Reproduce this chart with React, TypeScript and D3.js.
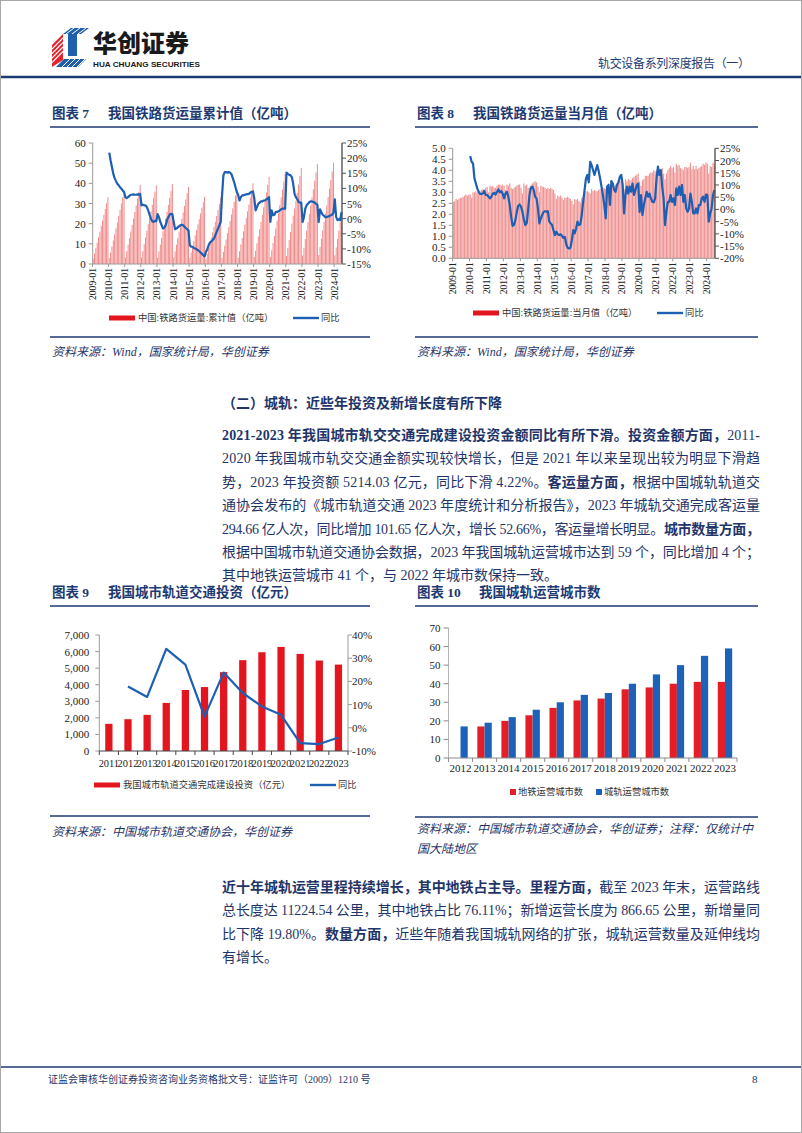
import React from 'react';
import * as d3 from 'd3';

// ---------------- DATA ----------------
// month categories 2009-01 .. 2024-06
const monthLabels: string[] = [];
for (let y = 2009; y <= 2024; y++) {
  for (let m = 1; m <= 12; m++) {
    if (y === 2024 && m > 6) break;
    monthLabels.push(`${y}-${m < 10 ? '0' + m : m}`);
  }
}
const yearTickLabels = ['2009-01','2010-01','2011-01','2012-01','2013-01','2014-01','2015-01','2016-01','2017-01','2018-01','2019-01','2020-01','2021-01','2022-01','2023-01','2024-01'];

// Chart 7: cumulative rail freight (亿吨)
const freightCumulative: number[] = [
  2.6, 5.2, 7.9, 10.6, 13.3, 16.0, 18.8, 21.6, 24.4, 27.3, 30.2, 33.1,
  2.9, 5.7, 8.7, 11.7, 14.7, 17.7, 20.7, 23.8, 26.9, 30.0, 33.1, 36.3,
  3.3, 6.3, 9.6, 12.8, 16.1, 19.3, 22.5, 25.8, 29.1, 32.5, 35.8, 39.2,
  3.3, 6.4, 9.8, 13.1, 16.5, 19.7, 22.8, 26.0, 29.3, 32.6, 35.9, 39.0,
  3.2, 6.2, 9.6, 12.9, 16.2, 19.4, 22.6, 25.9, 29.3, 32.8, 36.3, 39.7,
  3.3, 6.3, 9.6, 12.8, 16.1, 19.3, 22.4, 25.6, 28.8, 32.0, 35.1, 38.2,
  3.0, 5.7, 8.5, 11.3, 14.2, 16.9, 19.6, 22.3, 25.1, 27.9, 30.6, 33.3,
  2.6, 5.1, 7.8, 10.4, 13.1, 15.7, 18.3, 21.0, 23.8, 26.8, 29.8, 33.0,
  3.0, 6.0, 9.1, 12.2, 15.3, 18.3, 21.4, 24.5, 27.6, 30.8, 34.0, 37.2,
  3.2, 6.3, 9.7, 12.8, 16.2, 19.5, 22.8, 26.1, 29.5, 33.0, 36.5, 40.0,
  3.5, 6.6, 10.2, 13.7, 17.3, 20.9, 24.4, 28.1, 31.8, 35.5, 39.3, 43.2,
  3.5, 6.8, 10.4, 14.0, 17.7, 21.5, 25.2, 29.1, 33.0, 36.9, 40.9, 44.8,
  4.0, 7.9, 11.9, 15.9, 20.0, 23.9, 27.5, 31.3, 35.3, 39.4, 43.6, 47.7,
  4.2, 8.1, 12.4, 16.6, 20.8, 24.9, 29.0, 33.0, 37.1, 41.3, 45.4, 49.5,
  4.4, 8.4, 12.6, 16.7, 20.9, 24.9, 29.0, 33.2, 37.4, 41.7, 45.9, 50.3,
  4.3, 8.2, 12.4, 16.5, 20.9, 25.2,
];
const freightCumulativeYoY: (number | null)[] = [
  null, null, null, null, null, null, null, null, null, null, null, null,
  21.8, 19.2, 17.0, 14.8, 13.4, 12.4, 11.5, 11.0, 10.4, 9.9, 9.3, 8.8,
  7.1, 6.8, 7.1, 7.5, 7.9, 7.9, 8.0, 7.9, 7.9, 8.0, 7.9, 8.2,
  4.4, 4.6, 4.4, 4.4, 3.8, 2.7, 1.3, 0.0, -0.9, -1.1, -0.7, -0.9,
  1.5, 0.5, -1.1, -2.2, -3.3, -3.0, -2.2, -0.5, 0.5, 1.3, 1.6, 1.5,
  -1.1, -3.5, -3.3, -2.9, -2.5, -2.2, -2.0, -2.2, -2.7, -3.1, -3.5, -3.9,
  -8.8, -9.3, -9.3, -9.7, -9.9, -10.1, -10.4, -10.8, -11.2, -11.6, -12.1, -12.5,
  -11.0, -10.1, -8.8, -7.9, -7.5, -7.1, -6.6, -5.5, -4.4, -3.3, -2.2, -1.1,
  7.7, 14.3, 15.4, 15.4, 15.2, 15.4, 15.2, 14.7, 13.4, 12.1, 10.4, 8.8,
  7.9, 6.0, 7.1, 7.7, 7.7, 7.9, 8.0, 8.1, 8.2, 8.6, 8.8, 9.0,
  6.8, 2.7, 3.8, 4.9, 5.3, 5.7, 5.7, 6.0, 6.0, 6.4, 6.6, 7.1,
  -1.1, 2.7, 1.1, 1.3, 2.2, 2.2, 2.4, 2.7, 3.1, 3.3, 3.3, 3.3,
  15.2, 14.8, 14.5, 14.3, 13.7, 11.5, 8.2, 7.1, 6.4, 5.5, 5.3, 5.3,
  -1.1, 0.5, 3.3, 4.4, 4.9, 5.5, 5.7, 5.7, 5.5, 5.3, 4.9, 4.6,
  -1.1, 3.1, 2.0, 1.3, 0.9, 0.5, 0.5, 0.7, 0.9, 1.1, 1.3, 2.0,
  6.4, 0.5, -0.5, -0.2, -0.5, 2.2,
];

// Chart 8: monthly rail freight (亿吨)
const freightMonthly: number[] = [
  2.55, 2.6, 2.7, 2.65, 2.7, 2.75, 2.75, 2.8, 2.85, 2.9, 2.85, 2.9,
  2.9, 2.75, 3.0, 3.0, 3.05, 3.0, 3.0, 3.05, 3.1, 3.15, 3.1, 3.2,
  3.25, 3.0, 3.3, 3.25, 3.3, 3.2, 3.2, 3.3, 3.35, 3.35, 3.3, 3.35,
  3.3, 3.1, 3.35, 3.3, 3.4, 3.2, 3.15, 3.2, 3.25, 3.3, 3.35, 3.35,
  3.2, 2.95, 3.4, 3.3, 3.35, 3.2, 3.2, 3.3, 3.4, 3.45, 3.5, 3.45,
  3.25, 3.0, 3.3, 3.25, 3.25, 3.2, 3.15, 3.2, 3.15, 3.2, 3.15, 3.1,
  2.95, 2.7, 2.85, 2.8, 2.85, 2.75, 2.65, 2.75, 2.75, 2.8, 2.75, 2.7,
  2.6, 2.45, 2.7, 2.65, 2.7, 2.6, 2.55, 2.75, 2.8, 2.95, 3.05, 3.05,
  3.0, 2.95, 3.15, 3.05, 3.1, 3.05, 3.05, 3.1, 3.15, 3.15, 3.2, 3.2,
  3.15, 3.1, 3.4, 3.15, 3.4, 3.3, 3.25, 3.35, 3.4, 3.45, 3.5, 3.55,
  3.45, 3.15, 3.6, 3.5, 3.6, 3.55, 3.55, 3.65, 3.7, 3.75, 3.8, 3.85,
  3.5, 3.3, 3.55, 3.6, 3.75, 3.75, 3.75, 3.85, 3.9, 3.9, 4.0, 3.95,
  4.0, 3.85, 4.05, 4.0, 4.1, 3.85, 3.6, 3.85, 4.0, 4.1, 4.2, 4.1,
  4.15, 3.9, 4.3, 4.2, 4.25, 4.1, 4.05, 4.0, 4.15, 4.15, 4.1, 4.15,
  4.35, 4.05, 4.2, 4.05, 4.2, 4.05, 4.1, 4.15, 4.2, 4.3, 4.25, 4.35,
  4.3, 3.85, 4.2, 4.15, 4.35, 4.3,
];
const freightMonthlyYoY: (number | null)[] = [
  null, null, null, null, null, null, null, null, null, null, null, null,
  21.8, 19.5, 18.8, 12.7, 10.6, 8.6, 7.2, 6.3, 6.3, 6.5, 7.6, 5.9,
  5.9, 5.2, 4.5, 5.2, 6.4, 6.8, 6.1, 7.2, 8.2, 7.0, 7.5, 6.4,
  4.5, 6.5, 7.2, 5.2, 1.8, -3.0, -6.7, -6.4, -4.4, -1.0, 1.5, 2.0,
  1.1, -1.0, -4.0, -6.4, -5.7, -0.3, 5.9, 8.9, 9.3, 7.9, 5.2, 4.5,
  0.4, -5.7, -3.7, -2.3, -1.0, -0.7, -1.0, -0.7, -5.0, -5.7, -6.4, -8.5,
  -10.5, -9.1, -10.2, -10.5, -10.2, -10.8, -11.6, -11.2, -14.2, -15.7, -16.0, -15.7,
  -12.6, -8.5, -9.8, -7.8, -5.0, -6.4, -6.1, -2.3, 3.1, 7.9, 12.7, 14.1,
  11.1, 19.5, 18.1, 16.1, 14.1, 16.1, 18.1, 15.7, 12.7, 9.3, 5.9, 1.8,
  -3.7, 9.3, 10.0, 1.8, 11.6, 10.6, 7.9, 7.2, 10.0, 11.1, 13.4, 14.1,
  10.0, -1.6, 5.9, 9.3, 6.5, 9.3, 7.2, 10.6, 5.9, 7.9, 10.0, 10.6,
  -1.0, 5.9, -2.3, 1.8, 4.5, 7.2, 5.2, 6.5, 4.5, 3.1, 2.9, 4.5,
  12.7, 17.5, 14.1, 16.1, 9.3, 4.5, -6.4, -1.0, 3.1, 3.1, 5.9, 3.1,
  4.5, 1.8, 8.6, 5.9, 9.3, 5.9, 10.0, 3.1, 5.9, 0.4, -1.0, 0.4,
  6.5, 3.1, -1.6, -1.6, 0.4, -1.6, 1.8, 1.8, 4.5, 5.2, 3.1, 6.1,
  5.9, -5.0, -1.6, 0.4, 5.9, 7.9,
];

const c7LeftTicks = [0, 10, 20, 30, 40, 50, 60];
const c7RightTicks = [-15, -10, -5, 0, 5, 10, 15, 20, 25];
const c8LeftTicks = [0, 0.5, 1.0, 1.5, 2.0, 2.5, 3.0, 3.5, 4.0, 4.5, 5.0];
const c8RightTicks = [-20, -15, -10, -5, 0, 5, 10, 15, 20, 25];

// Chart 9: urban rail investment (亿元)
const investYears = ['2011','2012','2013','2014','2015','2016','2017','2018','2019','2020','2021','2022','2023'];
const investValues = [1640, 1920, 2180, 2900, 3680, 3860, 4760, 5480, 5960, 6280, 5860, 5460, 5214];
const investYoY: (number | null)[] = [null, 17.8, 13.3, 34.0, 27.2, 4.8, 23.8, 15.0, 9.2, 5.6, -6.6, -7.0, -4.2];
const c9LeftTicks = [0, 1000, 2000, 3000, 4000, 5000, 6000, 7000];
const c9RightTicks = [-10, 0, 10, 20, 30, 40];

// Chart 10: operating cities
const cityYears = ['2012','2013','2014','2015','2016','2017','2018','2019','2020','2021','2022','2023'];
const metroCities: (number | null)[] = [null, 17, 20, 23, 27, 31, 32, 37, 38, 40, 41, 41];
const railCities = [17, 19, 22, 26, 30, 34, 35, 40, 45, 50, 55, 59];
const c10Ticks = [0, 10, 20, 30, 40, 50, 60, 70];

// ---------------- STYLE ----------------
const NAVY = '#1d3a72';
const TXT = '#1f3569';
const LBL = '#222';
const BLUE = '#1c5fb4';
const RED = '#e3161f';
const SERIF = "'Liberation Serif','Times New Roman','Noto Sans CJK SC',serif";

// ---------------- COMPONENTS ----------------
type TimeProps = {
  x0: number; x1: number; yTop: number; yBot: number;
  bars: number[]; line: (number | null)[];
  leftTicks: number[]; leftFmt: (v: number) => string; rightTicks: number[];
  barColor: string; pad: number; labelFont: number;
};

function TimeChart(p: TimeProps) {
  const xb = d3.scaleBand<string>().domain(monthLabels).range([p.x0, p.x1]).paddingInner(p.pad).paddingOuter(0);
  const yL = d3.scaleLinear().domain([p.leftTicks[0], p.leftTicks[p.leftTicks.length - 1]]).range([p.yBot, p.yTop]);
  const yR = d3.scaleLinear().domain([p.rightTicks[0], p.rightTicks[p.rightTicks.length - 1]]).range([p.yBot, p.yTop]);
  const bw = xb.bandwidth();
  const off = (xb.step() * p.pad) / 2;
  const pts = monthLabels.map((m, i) => ({ m, v: p.line[i] }));
  const path = d3.line<{ m: string; v: number | null }>()
    .defined(d => d.v != null)
    .x(d => (xb(d.m) as number) + bw / 2)
    .y(d => yR(d.v as number))(pts) || '';
  const pctFmt = (v: number) => `${v}%`;
  return (
    <g>
      {p.bars.map((v, i) => (
        <rect key={i} x={xb(monthLabels[i])} y={yL(v)} width={bw} height={p.yBot - yL(v)} fill={p.barColor} />
      ))}
      <path d={path} fill="none" stroke={BLUE} strokeWidth={2.2} strokeLinejoin="round" />
      {/* left axis */}
      <line x1={p.x0} x2={p.x0} y1={p.yTop} y2={p.yBot} stroke="#9a9a9a" />
      {p.leftTicks.map(t => (
        <g key={'l' + t}>
          <line x1={p.x0 - 4} x2={p.x0} y1={yL(t)} y2={yL(t)} stroke="#9a9a9a" />
          <text x={p.x0 - 7} y={yL(t)} textAnchor="end" dominantBaseline="central" fontSize={11} fontFamily={SERIF} fill={LBL}>{p.leftFmt(t)}</text>
        </g>
      ))}
      {/* right axis */}
      <line x1={p.x1} x2={p.x1} y1={p.yTop} y2={p.yBot} stroke="#555" strokeWidth={1.4} />
      {p.rightTicks.map(t => (
        <g key={'r' + t}>
          <line x1={p.x1} x2={p.x1 + 4} y1={yR(t)} y2={yR(t)} stroke="#555" />
          <text x={p.x1 + 5} y={yR(t)} dominantBaseline="central" fontSize={11} fontFamily={SERIF} fill={LBL}>{pctFmt(t)}</text>
        </g>
      ))}
      {/* bottom axis */}
      <line x1={p.x0} x2={p.x1} y1={p.yBot} y2={p.yBot} stroke="#9a9a9a" />
      {yearTickLabels.map(lab => {
        const x = (xb(lab) as number) - off;
        return (
          <g key={lab}>
            <line x1={x} x2={x} y1={p.yBot} y2={p.yBot + 3} stroke="#9a9a9a" />
            <text transform={`translate(${x},${p.yBot + 4}) rotate(-90)`} textAnchor="end" dominantBaseline="central" fontSize={p.labelFont} fontFamily={SERIF} fill={LBL}>{lab}</text>
          </g>
        );
      })}
    </g>
  );
}

function InvestChart() {
  const x0 = 99.3, x1 = 348, yTop = 635, yBot = 751;
  const xb = d3.scaleBand<string>().domain(investYears).range([x0, x1]).paddingInner(0.62).paddingOuter(0.31);
  const yL = d3.scaleLinear().domain([0, 7000]).range([yBot, yTop]);
  const yR = d3.scaleLinear().domain([-10, 40]).range([yBot, yTop]);
  const bw = xb.bandwidth();
  const step = xb.step();
  const pts = investYears.map((y, i) => ({ y, v: investYoY[i] }));
  const path = d3.line<{ y: string; v: number | null }>()
    .defined(d => d.v != null)
    .x(d => (xb(d.y) as number) + bw / 2)
    .y(d => yR(d.v as number))(pts) || '';
  const fmt = d3.format(',');
  const firstEdge = (xb(investYears[0]) as number) - step * 0.31;
  return (
    <g>
      {investValues.map((v, i) => (
        <rect key={i} x={xb(investYears[i])} y={yL(v)} width={bw} height={yBot - yL(v)} fill={RED} />
      ))}
      <path d={path} fill="none" stroke={BLUE} strokeWidth={2.2} strokeLinejoin="round" />
      <line x1={x0} x2={x0} y1={yTop} y2={yBot} stroke="#9a9a9a" />
      {c9LeftTicks.map(t => (
        <g key={t}>
          <line x1={x0 - 4} x2={x0} y1={yL(t)} y2={yL(t)} stroke="#9a9a9a" />
          <text x={x0 - 10} y={yL(t)} textAnchor="end" dominantBaseline="central" fontSize={11} fontFamily={SERIF} fill={LBL}>{fmt(t)}</text>
        </g>
      ))}
      <line x1={x1} x2={x1} y1={yTop} y2={yBot} stroke="#9a9a9a" />
      {c9RightTicks.map(t => (
        <g key={t}>
          <line x1={x1} x2={x1 + 4} y1={yR(t)} y2={yR(t)} stroke="#9a9a9a" />
          <text x={x1 + 4} y={yR(t)} dominantBaseline="central" fontSize={11} fontFamily={SERIF} fill={LBL}>{t}%</text>
        </g>
      ))}
      <line x1={x0} x2={x1} y1={yBot} y2={yBot} stroke="#444" />
      {d3.range(investYears.length + 1).map(i => (
        <line key={i} x1={firstEdge + i * step} x2={firstEdge + i * step} y1={yBot} y2={yBot + 4} stroke="#444" />
      ))}
      {investYears.map(y => (
        <text key={y} x={(xb(y) as number) + bw / 2} y={763} textAnchor="middle" dominantBaseline="central" fontSize={10.4} fontFamily={SERIF} fill={LBL}>{y}</text>
      ))}
    </g>
  );
}

function CityChart() {
  const x0 = 448.5, x1 = 737, yTop = 628, yBot = 758;
  const xo = d3.scaleBand<string>().domain(cityYears).range([x0, x1]).paddingInner(0.4).paddingOuter(0.2);
  const xi = d3.scaleBand<string>().domain(['metro', 'rail']).range([0, xo.bandwidth()]);
  const y = d3.scaleLinear().domain([0, 70]).range([yBot, yTop]);
  const step = xo.step();
  const edge0 = (xo(cityYears[0]) as number) - step * 0.2;
  return (
    <g>
      {cityYears.map((yr, i) => (
        <g key={yr}>
          {metroCities[i] != null && (
            <rect x={(xo(yr) as number) + (xi('metro') as number)} y={y(metroCities[i] as number)} width={xi.bandwidth()} height={yBot - y(metroCities[i] as number)} fill="#e41e26" />
          )}
          <rect x={(xo(yr) as number) + (xi('rail') as number)} y={y(railCities[i])} width={xi.bandwidth()} height={yBot - y(railCities[i])} fill="#1d62b9" />
        </g>
      ))}
      <line x1={x0} x2={x0} y1={yTop} y2={yBot} stroke="#b5b5b5" />
      {c10Ticks.map(t => (
        <g key={t}>
          <line x1={x0 - 5} x2={x0} y1={y(t)} y2={y(t)} stroke="#8a8a8a" />
          <text x={x0 - 8} y={y(t)} textAnchor="end" dominantBaseline="central" fontSize={11} fontFamily={SERIF} fill={LBL}>{t}</text>
        </g>
      ))}
      <line x1={x0} x2={x1} y1={yBot} y2={yBot} stroke="#8a8a8a" />
      {d3.range(cityYears.length + 1).map(i => (
        <line key={i} x1={edge0 + i * step} x2={edge0 + i * step} y1={yBot} y2={yBot + 4} stroke="#8a8a8a" />
      ))}
      {cityYears.map(yr => (
        <text key={yr} x={(xo(yr) as number) + xo.bandwidth() / 2} y={768} textAnchor="middle" dominantBaseline="central" fontSize={11} fontFamily={SERIF} fill={LBL}>{yr}</text>
      ))}
    </g>
  );
}

function ChartTitle({ x, xMain, y, num, title, x2 }: { x: number; xMain: number; y: number; num: string; title: string; x2: number }) {
  return (
    <g fill={NAVY} fontWeight={700} fontSize={13.5} fontFamily={SERIF}>
      <text x={x} y={y} dominantBaseline="central">{`图表 ${num}`}</text>
      <text x={xMain} y={y} dominantBaseline="central">{title}</text>
      <line x1={x - 2} x2={x2} y1={y + 14} y2={y + 14} stroke={NAVY} strokeWidth={1.6} />
    </g>
  );
}

function Source({ x, y, lines, x2, ruleY }: { x: number; y: number; lines: string[]; x2: number; ruleY: number }) {
  return (
    <g>
      <line x1={x - 2} x2={x2} y1={ruleY} y2={ruleY} stroke={NAVY} strokeWidth={1.6} />
      {lines.map((l, i) => (
        <text key={i} x={x} y={y + i * 20} dominantBaseline="central" fontSize={12} fontStyle="italic" fontFamily={SERIF} fill={TXT}>{l}</text>
      ))}
    </g>
  );
}

type Seg = [string, boolean];
function Para({ x, y0, dy, width, lines }: { x: number; y0: number; dy: number; width: number; lines: { segs: Seg[]; full: boolean }[] }) {
  return (
    <g fontSize={14} fontFamily={SERIF} fill={TXT}>
      {lines.map((ln, i) => (
        <text key={i} x={x} y={y0 + i * dy} dominantBaseline="central" {...(ln.full ? { textLength: width, lengthAdjust: 'spacing' } : {})}>
          {ln.segs.map((s, j) => (
            <tspan key={j} fontWeight={s[1] ? 700 : 400}>{s[0]}</tspan>
          ))}
        </text>
      ))}
    </g>
  );
}

const para1 = [
  { segs: [['2021-2023 年我国城市轨交交通完成建设投资金额同比有所下滑。投资金额方面，', true], ['2011-', false]] as Seg[], full: true },
  { segs: [['2020 年我国城市轨交交通金额实现较快增长，但是 2021 年以来呈现出较为明显下滑趋', false]] as Seg[], full: true },
  { segs: [['势，2023 年投资额 5214.03 亿元，同比下滑 4.22%。', false], ['客运量方面，', true], ['根据中国城轨轨道交', false]] as Seg[], full: true },
  { segs: [['通协会发布的《城市轨道交通 2023 年度统计和分析报告》，2023 年城轨交通完成客运量', false]] as Seg[], full: true },
  { segs: [['294.66 亿人次，同比增加 101.65 亿人次，增长 52.66%，客运量增长明显。', false], ['城市数量方面，', true]] as Seg[], full: true },
  { segs: [['根据中国城市轨道交通协会数据，2023 年我国城轨运营城市达到 59 个，同比增加 4 个；', false]] as Seg[], full: true },
  { segs: [['其中地铁运营城市 41 个，与 2022 年城市数保持一致。', false]] as Seg[], full: false },
];
const para2 = [
  { segs: [['近十年城轨运营里程持续增长，其中地铁占主导。里程方面，', true], ['截至 2023 年末，运营路线', false]] as Seg[], full: true },
  { segs: [['总长度达 11224.54 公里，其中地铁占比 76.11%；新增运营长度为 866.65 公里，新增量同', false]] as Seg[], full: true },
  { segs: [['比下降 19.80%。', false], ['数量方面，', true], ['近些年随着我国城轨网络的扩张，城轨运营数量及延伸线均', false]] as Seg[], full: true },
  { segs: [['有增长。', false]] as Seg[], full: false },
];

function Legend({ x, y, redText, lineX }: { x: number; y: number; redText: string; lineX: number }) {
  return (
    <g fontSize={9.3} fontFamily={SERIF} fill="#333">
      <rect x={x} y={y - 2.5} width={26} height={5} fill={RED} />
      <text x={x + 29} y={y} dominantBaseline="central">{redText}</text>
      <line x1={lineX} x2={lineX + 26} y1={y} y2={y} stroke={BLUE} strokeWidth={2.4} />
      <text x={lineX + 28} y={y} dominantBaseline="central">同比</text>
    </g>
  );
}

function Logo() {
  return (
    <g>
      <polygon points="52,45 63,34 63,60 52,67" fill="#e5232b" />
      {[0, 1, 2, 3].map(i => (
        <line key={i} x1={52} y1={49 + i * 4.5} x2={63} y2={38 + i * 4.5} stroke="#fff" strokeWidth={1.1} />
      ))}
      <polygon points="63,34 71,28 89,28 81,34" fill="#1f5fae" />
      {[0, 1, 2].map(i => (
        <line key={'t' + i} x1={66 + i * 6} y1={34} x2={74 + i * 6} y2={28} stroke="#fff" strokeWidth={1} />
      ))}
      <rect x={68} y={34} width={9} height={22} fill="#1f5fae" />
      <polygon points="56,67 64,59 86,59 78,67" fill="#1f5fae" />
      {[0, 1, 2, 3].map(i => (
        <line key={'b' + i} x1={62 + i * 5} y1={67} x2={70 + i * 5} y2={59} stroke="#fff" strokeWidth={1} />
      ))}
      <text x={93} y={52} fontSize={24} fontWeight={900} fontFamily="'Noto Sans CJK SC',sans-serif" fill="#1a1a1a">华创证券</text>
      <text x={93} y={66.5} fontSize={7.5} fontWeight={700} fontFamily="'Liberation Sans',Arial,sans-serif" fill="#1a1a1a" textLength={107} lengthAdjust="spacingAndGlyphs">HUA CHUANG SECURITIES</text>
    </g>
  );
}

export default function App() {
  return (
    <div style={{ position: 'absolute', left: 0, top: 0 }}>
      <svg width={802} height={1133} style={{ display: 'block', background: '#fff' }} fontFamily={SERIF}>
        <rect x={0.5} y={0.5} width={801} height={1132} fill="#fff" stroke="#a8a8a8" />
        <Logo />
        <text x={598} y={64} dominantBaseline="central" fontSize={12} fill={NAVY} textLength={152} lengthAdjust="spacing">轨交设备系列深度报告（一）</text>
        <line x1={1} x2={801} y1={77} y2={77} stroke={NAVY} strokeWidth={2.4} />

        {/* Chart 7 */}
        <ChartTitle x={52} xMain={108} y={113} num="7" title="我国铁路货运量累计值（亿吨）" x2={370} />
        <TimeChart x0={92.7} x1={342} yTop={143} yBot={264} bars={freightCumulative} line={freightCumulativeYoY}
          leftTicks={c7LeftTicks} leftFmt={v => String(v)} rightTicks={c7RightTicks} barColor="#ef8585" pad={0.3} labelFont={9.6} />
        <Legend x={109} y={318} redText="中国:铁路货运量:累计值（亿吨）" lineX={293} />
        <Source x={52} y={352} lines={['资料来源：Wind，国家统计局，华创证券']} x2={370} ruleY={337} />

        {/* Chart 8 */}
        <ChartTitle x={417} xMain={473} y={113} num="8" title="我国铁路货运量当月值（亿吨）" x2={758} />
        <TimeChart x0={452.7} x1={715} yTop={148.3} yBot={258.3} bars={freightMonthly} line={freightMonthlyYoY}
          leftTicks={c8LeftTicks} leftFmt={v => d3.format('.1f')(v)} rightTicks={c8RightTicks} barColor="#f09494" pad={0.18} labelFont={9.6} />
        <Legend x={473} y={313} redText="中国:铁路货运量:当月值（亿吨）" lineX={657} />
        <Source x={417} y={352} lines={['资料来源：Wind，国家统计局，华创证券']} x2={758} ruleY={337} />

        {/* Section text */}
        <text x={222} y={403} dominantBaseline="central" fontSize={14} fontWeight={700} fill={TXT}>（二）城轨：近些年投资及新增长度有所下降</text>
        <Para x={222} y0={435} dy={23.4} width={538} lines={para1} />

        {/* Chart 9 */}
        <ChartTitle x={52} xMain={108} y={592} num="9" title="我国城市轨道交通投资（亿元）" x2={370} />
        <InvestChart />
        <Legend x={94} y={785} redText="我国城市轨道交通完成建设投资（亿元）" lineX={310} />
        <Source x={52} y={832} lines={['资料来源：中国城市轨道交通协会，华创证券']} x2={370} ruleY={816} />

        {/* Chart 10 */}
        <ChartTitle x={417} xMain={479} y={592} num="10" title="我国城轨运营城市数" x2={758} />
        <CityChart />
        <g fontSize={9.3} fontFamily={SERIF} fill="#333">
          <rect x={510} y={789} width={6} height={6} fill="#e41e26" />
          <text x={518} y={792} dominantBaseline="central">地铁运营城市数</text>
          <rect x={596} y={789} width={6} height={6} fill="#1d62b9" />
          <text x={604} y={792} dominantBaseline="central">城轨运营城市数</text>
        </g>
        <Source x={417} y={829} lines={['资料来源：中国城市轨道交通协会，华创证券；注释：仅统计中', '国大陆地区']} x2={758} ruleY={817} />

        <Para x={222} y0={887} dy={23.4} width={538} lines={para2} />

        {/* Footer */}
        <line x1={1} x2={801} y1={1067} y2={1067} stroke={NAVY} strokeWidth={1.6} />
        <text x={48} y={1079} dominantBaseline="central" fontSize={10} fill={TXT}>证监会审核华创证券投资咨询业务资格批文号：证监许可（2009）1210 号</text>
        <text x={752} y={1079} dominantBaseline="central" fontSize={11} fill={TXT}>8</text>
      </svg>
    </div>
  );
}
